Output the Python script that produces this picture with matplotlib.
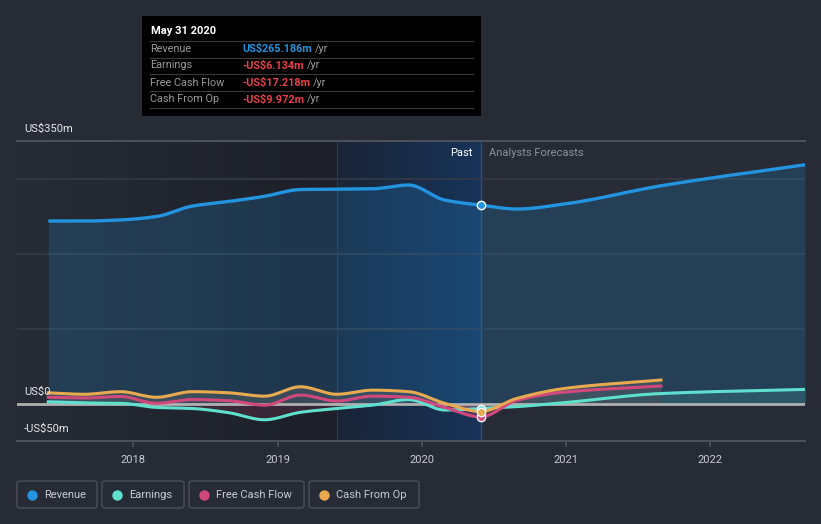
import numpy as np
import matplotlib
matplotlib.use("Agg")
import matplotlib.pyplot as plt
from matplotlib.patches import Rectangle, FancyBboxPatch
from matplotlib.colors import LinearSegmentedColormap

plt.rcParams['font.family'] = ['Roboto', 'DejaVu Sans']

# ---------------- data (US$ m) ----------------
past_dates = [2017.41, 2017.66, 2017.91, 2018.16, 2018.41, 2018.66, 2018.91,
              2019.16, 2019.41, 2019.66, 2019.91, 2020.16, 2020.41]
revenue_past = [244, 244, 245.5, 250, 264, 270, 277, 286, 286.5, 287, 292, 272, 265.186]
earnings_past = [3, 1.5, 1, -4.5, -6, -11.5, -21, -11, -6, -1.5, 6, -8, -6.134]
fcf_past = [9, 8, 10, 1, 6, 4.5, -1.5, 12, 4, 10.5, 9, -4.5, -17.218]
cfo_past = [15, 13, 16.5, 9, 16.5, 15, 10.5, 23, 13, 18.5, 16.5, 1, -9.972]

fc_dates_long = [2020.41, 2020.66, 2021.0, 2021.66, 2022.66]
revenue_fc = [265.186, 260, 267, 291, 319]
earnings_fc = [-6.134, -3.5, 2, 14, 19.5]
fc_dates_short = [2020.41, 2020.66, 2021.0, 2021.66]
fcf_fc = [-17.218, 5, 16, 24]
cfo_fc = [-9.972, 7.5, 21, 32]

year_ticks = [2018, 2019, 2020, 2021, 2022]
y_labels = ["US$350m", "US$0", "-US$50m"]
legend_names = ["Revenue", "Earnings", "Free Cash Flow", "Cash From Op"]
tooltip_date = "May 31 2020"
tooltip_values = ["US$265.186m", "-US$6.134m", "-US$17.218m", "-US$9.972m"]

C_REV = "#2394df"
C_EARN = "#5fe0cf"
C_FCF = "#d1487d"
C_CFO = "#e9a94f"
BG = "#262b36"

W, H = 821, 524


def pchip(x, y, n=40):
    x = np.asarray(x, float); y = np.asarray(y, float)
    h = np.diff(x); d = np.diff(y) / h
    m = np.zeros_like(y)
    m[0] = d[0]; m[-1] = d[-1]
    for i in range(1, len(y) - 1):
        if d[i - 1] * d[i] <= 0:
            m[i] = 0
        else:
            w1 = 2 * h[i] + h[i - 1]; w2 = h[i] + 2 * h[i - 1]
            m[i] = (w1 + w2) / (w1 / d[i - 1] + w2 / d[i])
    xs, ys = [], []
    for i in range(len(x) - 1):
        t = np.linspace(0, 1, n, endpoint=(i == len(x) - 2))
        h00 = 2 * t**3 - 3 * t**2 + 1; h10 = t**3 - 2 * t**2 + t
        h01 = -2 * t**3 + 3 * t**2; h11 = t**3 - t**2
        xs.append(x[i] + t * h[i])
        ys.append(h00 * y[i] + h10 * h[i] * m[i] + h01 * y[i + 1] + h11 * h[i] * m[i + 1])
    return np.concatenate(xs), np.concatenate(ys)


fig = plt.figure(figsize=(W / 100, H / 100), dpi=100, facecolor=BG)
L, R, T, B = 17, 805, 141, 441
ax = fig.add_axes([L / W, 1 - B / H, (R - L) / W, (B - T) / H])
ax.set_facecolor(BG)
x0, x1 = 2017.193, 2022.659
y0, y1 = -49.3, 350.7
ax.set_xlim(x0, x1)
ax.set_ylim(y0, y1)

now = past_dates[-1]
# background shading
grad = np.linspace(0, 1, 256).reshape(1, -1)
cm1 = LinearSegmentedColormap.from_list("g1", [BG, "#1d2029"])
ax.imshow(grad, extent=[x0, now - 1.0, y0, y1], aspect='auto', cmap=cm1, zorder=0)
cm2 = LinearSegmentedColormap.from_list("g2", ["#1a2436", "#173459"])
ax.imshow(grad, extent=[now - 1.0, now, y0, y1], aspect='auto', cmap=cm2, zorder=0)
ax.axvline(now - 1.0, color="#1f3a63", lw=0.8, zorder=0.5)
ax.axvline(now, color="#2a4f7a", lw=1.0, zorder=0.5)

# gridlines
for gy in [100, 200, 300]:
    ax.axhline(gy, color="#343a47", lw=1.2, zorder=1)
ax.axhline(y1, color="#4a505c", lw=1.5, zorder=1, clip_on=False)
ax.axhline(y0, color="#4a505c", lw=1.5, zorder=1, clip_on=False)

# series
all_rev_d = past_dates + fc_dates_long[1:]
all_rev = revenue_past + revenue_fc[1:]
xr, yr = pchip(all_rev_d, all_rev)
ax.fill_between(xr, yr, 0, color=C_REV, alpha=0.2, lw=0, zorder=2)
ax.plot(xr, yr, color=C_REV, lw=2.4, zorder=5, solid_capstyle='butt')

xe, ye = pchip(past_dates + fc_dates_long[1:], earnings_past + earnings_fc[1:])
xf, yf = pchip(past_dates + fc_dates_short[1:], fcf_past + fcf_fc[1:])
xc, yc = pchip(past_dates + fc_dates_short[1:], cfo_past + cfo_fc[1:])

ax.fill_between(xc, yc, 0, color="#8a8a7a", alpha=0.25, lw=0, zorder=3)
ax.fill_between(xf, yf, 0, where=yf < 0, color=C_FCF, alpha=0.25, lw=0, zorder=3)
ax.fill_between(xe, ye, 0, where=ye < 0, color=C_FCF, alpha=0.15, lw=0, zorder=3)
ax.fill_between(xe, ye, 0, where=xe >= fc_dates_short[-1], color=C_EARN, alpha=0.15, lw=0, zorder=3)

ax.axhline(0, color="#b0b0b0", lw=2, zorder=4)
ax.plot(xe, ye, color=C_EARN, lw=2.2, zorder=6)
ax.plot(xf, yf, color=C_FCF, lw=2.2, zorder=6)
ax.plot(xc, yc, color=C_CFO, lw=2.2, zorder=7)

for v, c in [(earnings_past[-1], C_EARN), (fcf_past[-1], C_FCF), (cfo_past[-1], C_CFO), (revenue_past[-1], C_REV)]:
    ax.plot([now], [v], 'o', ms=6, color=c, mec="#ffffff", mew=1.0, zorder=9)

ax.set_xticks(year_ticks)
ax.set_xticklabels([str(y) for y in year_ticks], color="#c8cbd0", fontsize=8)
ax.tick_params(axis='x', length=4, color="#4a505c", width=1.2, pad=6)
ax.set_yticks([])
for s in ax.spines.values():
    s.set_visible(False)

# y labels
def fx(x): return x / W
def fy(y): return 1 - y / H

fig.text(fx(24), fy(129), y_labels[0], color="#e6e8ea", fontsize=8, va='center', ha='left')
fig.text(fx(24), fy(392), y_labels[1], color="#e6e8ea", fontsize=8, va='center', ha='left')
fig.text(fx(24), fy(429), y_labels[2], color="#e6e8ea", fontsize=8, va='center', ha='left')

fig.text(fx(472), fy(153), "Past", color="#ffffff", fontsize=8, va='center', ha='right')
fig.text(fx(489), fy(153), "Analysts Forecasts", color="#8c9098", fontsize=8, va='center', ha='left')

# tooltip
fig.add_artist(Rectangle((fx(142), fy(116)), (481 - 142) / W, (116 - 16) / H,
                         transform=fig.transFigure, facecolor="#000000", edgecolor="none", zorder=10))
fig.text(fx(151), fy(31), tooltip_date, color="#ffffff", fontsize=8, fontweight='bold', va='center', zorder=11)
for ly in [40.5, 57.5, 74.3, 91.3, 108.3]:
    fig.add_artist(plt.Line2D([fx(150), fx(473)], [fy(ly), fy(ly)], transform=fig.transFigure,
                              color="#3a3a3a", lw=0.8, zorder=11))
val_colors = [C_REV, "#e8414a", "#e8414a", "#e8414a"]
renderer = fig.canvas.get_renderer()
for i, (name, val) in enumerate(zip(legend_names, tooltip_values)):
    yy = fy(48.5 + i * 17)
    fig.text(fx(150), yy, name, color="#9a9a9a", fontsize=7.8, va='center', zorder=11)
    t = fig.text(fx(242), yy, val, color=val_colors[i], fontsize=7.8, fontweight='bold', va='center', zorder=11)
    bb = t.get_window_extent(renderer=renderer)
    fig.text(bb.x1 / W + 3 / W, yy, "/yr", color="#9a9a9a", fontsize=7.8, va='center', ha='left', zorder=11)

# legend
boxes = [(17, 97), (102, 184), (189, 304), (309, 419)]
leg_colors = [C_REV, C_EARN, C_FCF, C_CFO]
for (bx0, bx1), name, c in zip(boxes, legend_names, leg_colors):
    fig.add_artist(FancyBboxPatch((fx(bx0), fy(508)), (bx1 - bx0) / W, 27 / H,
                                  boxstyle="round,pad=0,rounding_size=0.004",
                                  transform=fig.transFigure, facecolor="none",
                                  edgecolor="#4a505c", lw=1.0))
    fig.add_artist(plt.Line2D([fx(bx0 + 15)], [fy(494.5)], transform=fig.transFigure,
                              marker='o', ms=7.5, color=c, mec='none', lw=0))
    fig.text(fx(bx0 + 27), fy(494.5), name, color="#c8cbd0", fontsize=8, va='center', ha='left')

fig.savefig("out.png", dpi=100, facecolor=BG)
